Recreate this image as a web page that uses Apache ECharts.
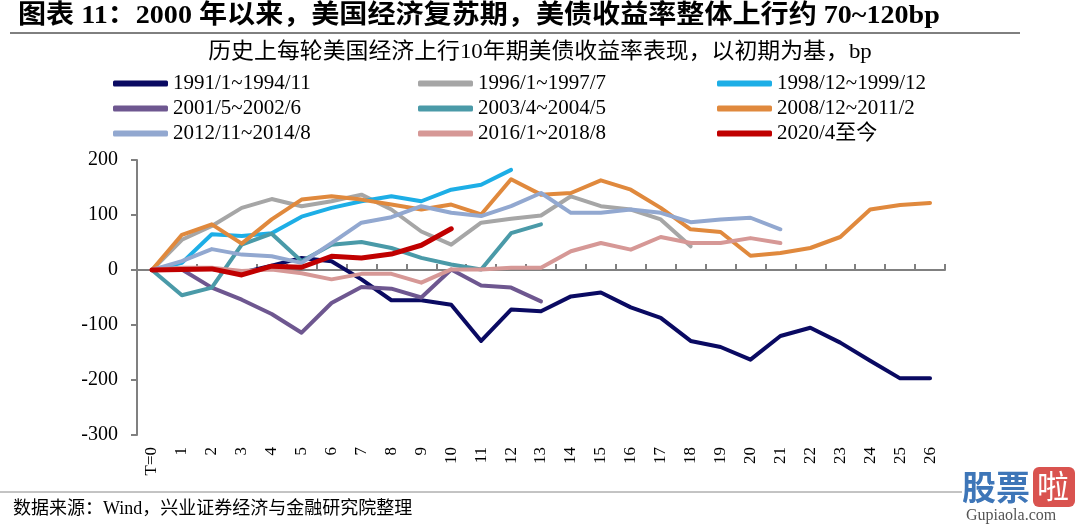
<!DOCTYPE html>
<html>
<head>
<meta charset="utf-8">
<script src="https://cdn.jsdelivr.net/npm/echarts@6/dist/echarts.min.js"></script>
<style>html,body{margin:0;padding:0;background:#fff}#c{width:1080px;height:528px}</style>
</head>
<body>
<div id="c"></div>
<script>
var categories = ['T=0','1','2','3','4','5','6','7','8','9','10','11','12','13','14','15','16','17','18','19','20','21','22','23','24','25','26'];
var yTicks = [-300, -200, -100, 0, 100, 200];
var names = ['1991/1~1994/11','1996/1~1997/7','1998/12~1999/12','2001/5~2002/6','2003/4~2004/5','2008/12~2011/2','2012/11~2014/8','2016/1~2018/8','2020/4至今'];
var s1991 = [0,3,2,-5,8,22,16,-17,-55,-55,-63,-129,-72,-75,-48,-41,-68,-87,-129,-140,-163,-120,-105,-132,-165,-197,-197];
var s1996 = [0,55,80,113,129,116,125,137,110,70,46,86,93,99,134,116,110,92,43];
var s1998 = [0,13,65,62,67,97,113,125,134,125,146,155,182];
var s2001 = [0,1,-32,-54,-80,-114,-60,-31,-34,-50,1,-28,-32,-57];
var s2003 = [0,-46,-32,46,66,16,46,51,40,22,10,1,67,83];
var s2008 = [0,64,83,48,92,128,134,128,119,110,119,101,165,137,140,163,146,113,74,69,26,31,40,60,110,118,122];
var s2012 = [0,16,38,28,25,13,49,86,96,116,104,98,116,140,104,104,110,104,87,92,95,74];
var s2016 = [0,4,4,-2,1,-6,-17,-7,-7,-23,1,1,4,4,34,49,37,60,49,49,58,49];
var s2020 = [0,1,2,-9,7,5,25,22,29,45,75];
var colors = ['#0A0A62','#A6A6A6','#1DAEE6','#6E5790','#4A9AA8','#E0893D','#92A8D0','#D69896','#C00000'];
var widths = [4,4,4,4,4,4,4,4,5];
var seriesData = [s1991,s1996,s1998,s2001,s2003,s2008,s2012,s2016,s2020];

var FF = "'Liberation Serif','Noto Sans CJK SC',serif";
var series = seriesData.map(function(d, i){
  return {
    name: names[i], type: 'line', data: d, symbol: 'none', xAxisIndex: 0,
    lineStyle: {color: colors[i], width: widths[i], cap: 'round', join: 'round'},
    itemStyle: {color: colors[i]}, z: 2 + i, animation: false
  };
});
function legendCol(idx, left){
  return {
    orient: 'vertical', left: left, top: 68, itemWidth: 55, itemHeight: 6, itemGap: 4,
    icon: 'roundRect',
    data: idx.map(function(k){ return names[k]; }),
    textStyle: {fontFamily: FF, fontSize: 21, color: '#000', lineHeight: 20}
  };
}
var chart = echarts.init(document.getElementById('c'));
chart.setOption({
  animation: false,
  backgroundColor: '#fff',
  title: [
    {text: '数据来源：Wind，兴业证券经济与金融研究院整理', left: 8, top: 495,
     textStyle: {fontFamily: FF, fontSize: 18, fontWeight: 'normal', color: '#000'}}
  ],
  legend: [legendCol([0,3,6], 108), legendCol([1,4,7], 413), legendCol([2,5,8], 712)],
  grid: {left: 137, right: 135, top: 160, bottom: 93, containLabel: false},
  xAxis: [
    {type: 'category', data: categories, boundaryGap: true, position: 'bottom',
     axisLine: {onZero: true, lineStyle: {color: '#808080', width: 2}},
     axisTick: {show: true, inside: true, length: 6, interval: 0, lineStyle: {color: '#808080', width: 2}},
     axisLabel: {show: false}, splitLine: {show: false}},
    {type: 'category', data: categories, boundaryGap: true, position: 'bottom',
     axisLine: {show: false, onZero: false}, axisTick: {show: false},
     axisLabel: {show: true, rotate: 90, interval: 0, margin: 12, fontFamily: FF, fontSize: 17, color: '#000'},
     splitLine: {show: false}}
  ],
  yAxis: {type: 'value', min: yTicks[0], max: yTicks[yTicks.length-1], interval: 100,
    axisLine: {show: true, lineStyle: {color: '#808080', width: 2}},
    axisTick: {show: true, length: 6, lineStyle: {color: '#808080', width: 2}},
    axisLabel: {margin: 19, fontFamily: FF, fontSize: 20, color: '#000'},
    splitLine: {show: false}},
  series: series,
  graphic: [
    {type: 'text', x: 18, y: 3, scaleX: 1.08, style: {text: '图表 11：2000 年以来，美国经济复苏期，美债收益率整体上行约 70~120bp', fontFamily: FF, fontSize: 26, fontWeight: 'bold', fill: '#000'}},
    {type: 'text', x: 540, y: 41, scaleX: 1.04, style: {text: '历史上每轮美国经济上行10年期美债收益率表现，以初期为基，bp', fontFamily: FF, fontSize: 22, fill: '#000', align: 'center'}},
    {type: 'line', shape: {x1: 10, y1: 33, x2: 1020, y2: 33}, style: {stroke: '#000', lineWidth: 1}},
    {type: 'line', shape: {x1: 0, y1: 492, x2: 962, y2: 492}, style: {stroke: '#888', lineWidth: 1}},
    {type: 'text', left: 962, top: 470, style: {text: '股票', fontFamily: "'Noto Sans CJK SC'", fontSize: 34, fontWeight: 'bold', fill: '#3E76B8'}},
    {type: 'rect', left: 1033, top: 467, shape: {width: 42, height: 40, r: 6}, style: {fill: '#D9534F'}},
    {type: 'text', left: 1037, top: 470, style: {text: '啦', fontFamily: "'Noto Sans CJK SC'", fontSize: 32, fill: '#fff'}},
    {type: 'text', left: 966, top: 508, style: {text: 'Gupiaola.com', fontFamily: "'Liberation Serif'", fontSize: 16, fill: '#555'}}
  ]
});
</script>
</body>
</html>
